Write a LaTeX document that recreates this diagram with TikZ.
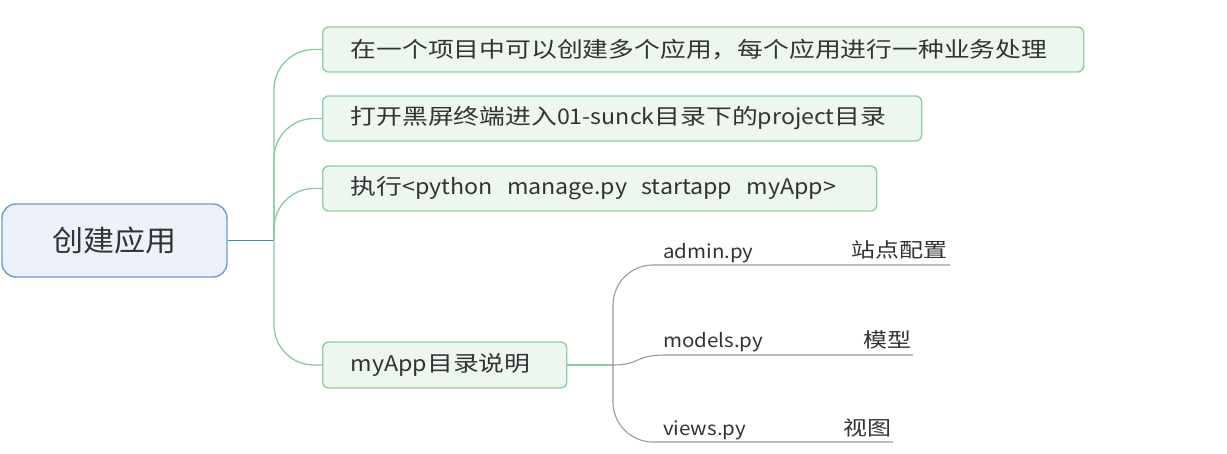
\documentclass[tikz,border=0pt]{standalone}
\usepackage{fontspec}
\usepackage{graphicx}
\setmainfont{Noto Sans CJK SC}[FakeStretch=1.2]
\newfontfamily\rootfont{Noto Sans CJK SC}[FakeStretch=1.07]
\newfontfamily\lat{Noto Sans CJK SC}[FakeStretch=1.08]
\definecolor{rootfill}{HTML}{EDF2FA}
\definecolor{rootdraw}{HTML}{6E9BD1}
\definecolor{blueline}{HTML}{4F81BD}
\definecolor{grfill}{HTML}{EEF6F0}
\definecolor{grdraw}{HTML}{8DCFA1}
\definecolor{grline}{HTML}{8ACB9C}
\definecolor{gyline}{HTML}{9A9A9A}
\definecolor{txt}{HTML}{333333}
\begin{document}
\begin{tikzpicture}[x=1pt,y=1pt,
  rootbox/.style={draw=rootdraw,fill=rootfill,line width=1.4pt,rounded corners=14pt,
    minimum width=225pt,minimum height=73pt,text=txt,font=\rootfont\fontsize{29}{34}\selectfont},
  childbox/.style={draw=grdraw,fill=grfill,line width=1.4pt,rounded corners=6pt,anchor=west,
    minimum height=45pt,inner xsep=28pt,inner ysep=0pt,align=left,text=txt,
    font=\fontsize{21.5}{26}\selectfont},
  subtxt/.style={anchor=base west,inner sep=0pt,text=txt,font=\lat\fontsize{19}{23}\selectfont},
  subnote/.style={anchor=base east,inner sep=0pt,text=txt,font=\fontsize{20}{24}\selectfont},
  trunk/.style={draw=grline,line width=1.3pt,rounded corners=40pt},
  subline/.style={draw=gyline,line width=1.1pt,rounded corners=40pt}
]
\useasboundingbox (0,0) rectangle (1227,453);
\node[rootbox] (root) at (114.5,212.5) {创建应用};
\coordinate (J) at (274,212.5);
\node[childbox,text width=705pt] (c1) at (322,403.5) {\mbox{在一个项目中可以创建多个应用，每个应用进行一种业务处理}};
\node[childbox,text width=543pt] (c2) at (322,334.5) {\mbox{打开黑屏终端进入{\lat 01-sunck}目录下的{\lat project}目录}};
\node[childbox,text width=498pt] (c3) at (322,264.5) {\mbox{执行{\lat <python\ \ manage.py\ \ startapp\ \ myApp>}}};
\node[childbox,text width=188pt,minimum height=46pt] (c4) at (322,88) {\mbox{{\lat myApp}目录说明}};
\draw[blueline,line width=1.3pt] (root.east) -- (J);
\draw[trunk] (J) |- (c1.west);
\draw[trunk] (J) |- (c2.west);
\draw[trunk] (J) |- (c3.west);
\draw[trunk] (J) |- (c4.west);
\coordinate (G) at (613,88);
\draw[draw=grline,line width=1.3pt] (c4.east) -- (G);
\coordinate (a1) at (950,188);
\coordinate (m0) at (665,98);
\coordinate (m1) at (913,98);
\coordinate (v1) at (893,11);
\draw[subline] (G) |- (a1);
\draw[subline,rounded corners=0pt] (G) .. controls (640,88) and (635,98) .. (m0) -- (m1);
\draw[subline] (G) |- (v1);
\node[subtxt] (admin) at (663,194) {admin.py};
\node[subtxt] (models) at (663,105) {models.py};
\node[subtxt] (views) at (663,18) {views.py};
\node[subnote] (n1) at (948,195) {站点配置};
\node[subnote] (n2) at (912,105) {模型};
\node[subnote] (n3) at (892,18) {视图};
\end{tikzpicture}
\end{document}
